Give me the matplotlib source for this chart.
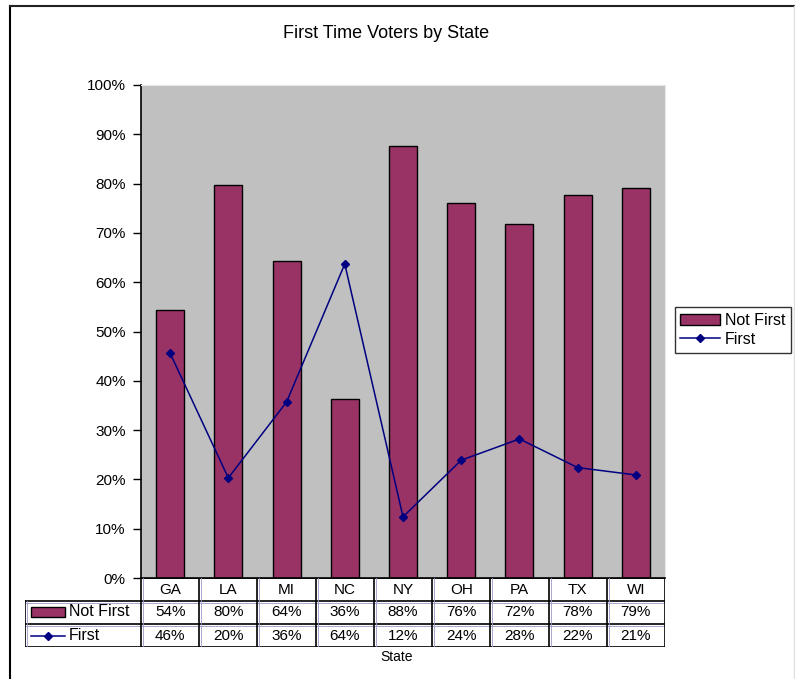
import matplotlib
matplotlib.use("Agg")
import matplotlib.pyplot as plt
from matplotlib.lines import Line2D
from matplotlib.patches import Rectangle
import numpy as np

plt.rcParams['font.family'] = ['Liberation Sans', 'DejaVu Sans']

states = ["GA", "LA", "MI", "NC", "NY", "OH", "PA", "TX", "WI"]
not_first = [54.4, 79.7, 64.3, 36.3, 87.6, 76.1, 71.8, 77.6, 79.1]
first = [45.6, 20.3, 35.7, 63.7, 12.4, 23.9, 28.2, 22.4, 20.9]
yticks = [0, 10, 20, 30, 40, 50, 60, 70, 80, 90, 100]

W, H = 795, 679
fig = plt.figure(figsize=(W / 100, H / 100), dpi=100)

def fx(px):
    return px / W

def fy(py):
    return 1 - py / H

# outer border
fig.add_artist(Line2D([fx(10), fx(10)], [fy(6), 0], color='black', lw=1.5, transform=fig.transFigure))
fig.add_artist(Line2D([fx(10), fx(794)], [fy(6), fy(6)], color='#222222', lw=1.5, transform=fig.transFigure))
fig.add_artist(Line2D([fx(794), fx(794)], [fy(6), 0], color='#dddddd', lw=1, transform=fig.transFigure))

L, R, T, B = 141, 665, 85, 578
ax = fig.add_axes([fx(L), fy(B), fx(R - L), (B - T) / H])
ax.set_facecolor('#C0C0C0')
x = np.arange(len(states))
ax.bar(x, not_first, width=0.48, color='#993366', edgecolor='black', linewidth=1, label='Not First', zorder=2)
ax.plot(x, first, color='#000080', lw=1.1, marker='D', markersize=4, label='First', zorder=3)
ax.set_xlim(-0.5, len(states) - 0.5)
ax.set_ylim(0, 100)
ax.set_yticks(yticks)
ax.set_yticklabels([f"{v}%" for v in yticks], fontsize=11)
ax.set_xticks([])
ax.tick_params(axis='y', direction='out', length=6, width=1, pad=5, colors='black')
ax.spines['left'].set_color('black')
ax.spines['bottom'].set_color('black')
ax.spines['left'].set_linewidth(1.2)
ax.spines['bottom'].set_linewidth(1.2)
ax.spines['top'].set_color('#e8e8e8')
ax.spines['right'].set_color('#e8e8e8')

fig.text(fx(386), fy(33), "First Time Voters by State", ha='center', va='center', fontsize=13)

# data table
TL, TT, TB = 25, 578, 647
tax = fig.add_axes([fx(TL), fy(TB), fx(R - TL), (TB - TT) / H])
tax.set_xlim(TL, R)
tax.set_ylim(TB, TT)
tax.axis('off')
colw = (R - L) / len(states)
rows = [578, 601, 624, 647]
lc = 'black'
tax.plot([L, R], [rows[0], rows[0]], color=lc, lw=1.2)
for yy in rows[1:]:
    tax.plot([TL, R], [yy, yy], color=lc, lw=1.2)
    tax.plot([TL, R], [yy + 2, yy + 2], color='#9999cc', lw=0.6)
for i in range(len(states) + 1):
    xx = L + i * colw
    tax.plot([xx, xx], [rows[0], rows[3]], color=lc, lw=1.2)
    tax.plot([xx + 2, xx + 2], [rows[0], rows[3]], color='#9999cc', lw=0.6)
tax.plot([TL, TL], [rows[1], rows[3]], color=lc, lw=1.2)
tax.plot([TL + 2, TL + 2], [rows[1], rows[3]], color='#9999cc', lw=0.6)

for i, s in enumerate(states):
    cx = L + (i + 0.5) * colw
    tax.text(cx, (rows[0] + rows[1]) / 2, s, ha='center', va='center', fontsize=11)
    tax.text(cx, (rows[1] + rows[2]) / 2, f"{round(not_first[i])}%", ha='center', va='center', fontsize=11)
    tax.text(cx, (rows[2] + rows[3]) / 2, f"{round(first[i])}%", ha='center', va='center', fontsize=11)

tax.add_patch(Rectangle((31, 607), 34, 10, facecolor='#993366', edgecolor='black', lw=1))
tax.text(69, 612, "Not First", ha='left', va='center', fontsize=11.5)
tax.plot([31, 65], [636, 636], color='#000080', lw=1.1)
tax.plot([48], [636], marker='D', markersize=4, color='#000080')
tax.text(69, 636, "First", ha='left', va='center', fontsize=11.5)

fig.text(fx(397), fy(657), "State", ha='center', va='center', fontsize=10)

leg = fig.legend(handles=[Rectangle((0, 0), 1, 1, facecolor='#993366', edgecolor='black'),
                          Line2D([], [], color='#000080', lw=1.1, marker='D', markersize=4)],
                 labels=['Not First', 'First'],
                 loc='center', bbox_to_anchor=(fx(733), fy(330)),
                 fontsize=11.5, frameon=True, fancybox=False, edgecolor='black',
                 handlelength=2.5, handleheight=0.7, borderpad=0.35, labelspacing=0.25, handletextpad=0.3)
leg.get_frame().set_linewidth(1)

fig.savefig("out.png", dpi=100)
